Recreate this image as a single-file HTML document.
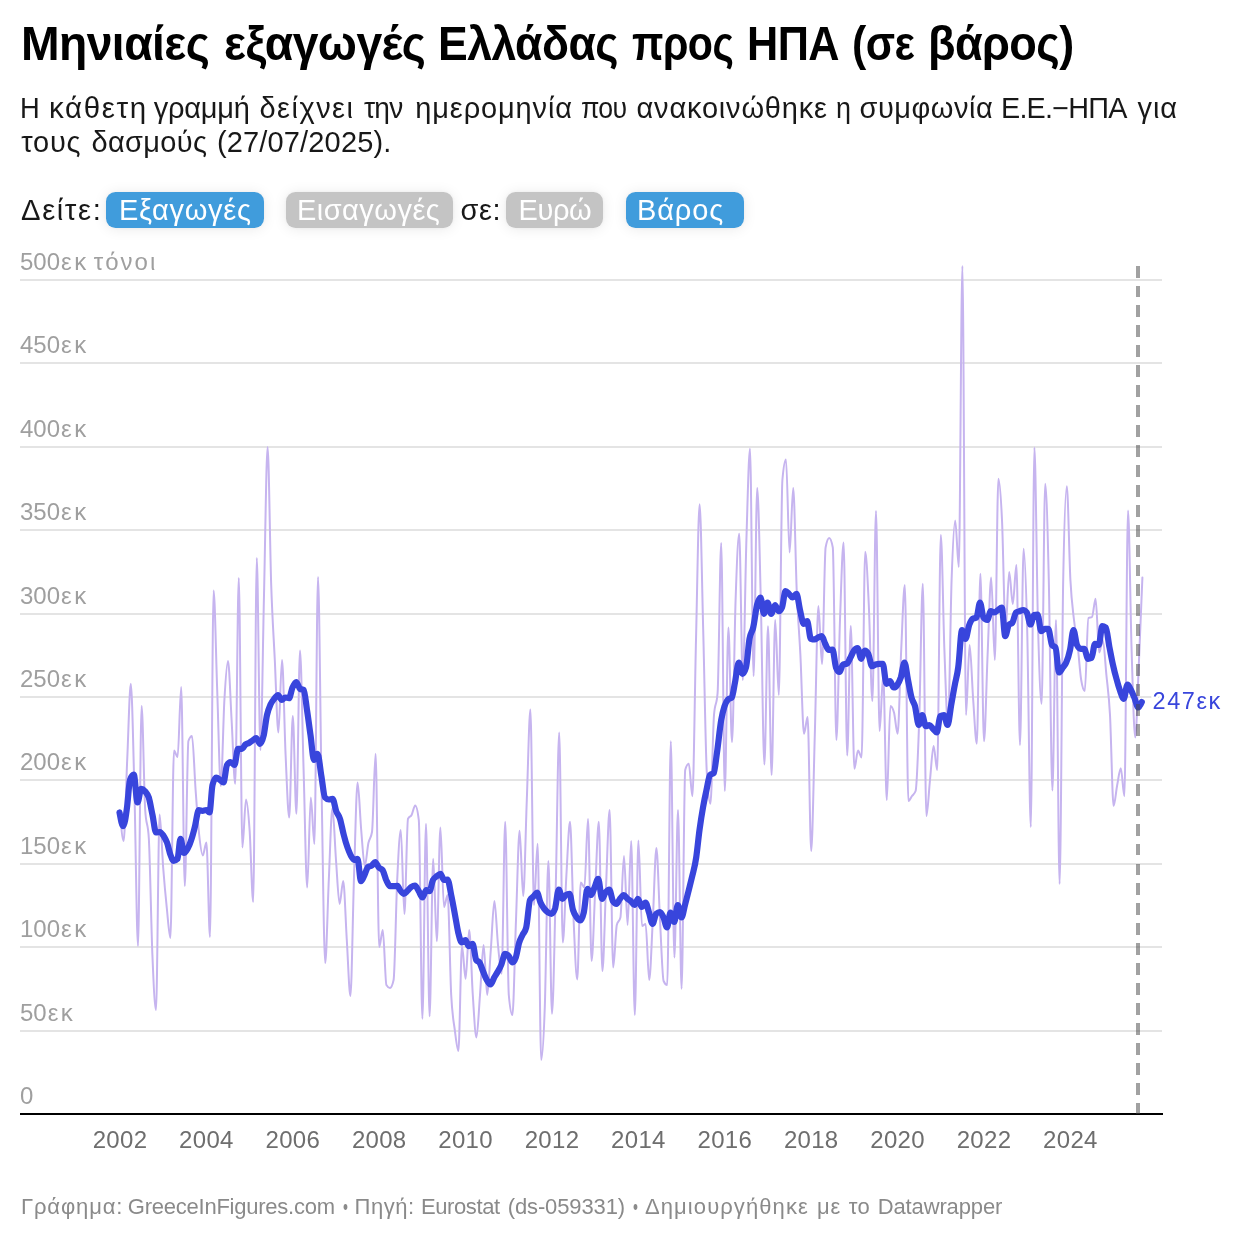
<!DOCTYPE html>
<html lang="el">
<head>
<meta charset="utf-8">
<title>Μηνιαίες εξαγωγές Ελλάδας προς ΗΠΑ (σε βάρος)</title>
<style>
html,body{margin:0;padding:0;background:#fff;}
body{width:1240px;height:1240px;position:relative;overflow:hidden;font-family:"Liberation Sans",sans-serif;color:#181818;}
.chart-wrap{position:absolute;left:0;top:0;width:1240px;height:1240px;will-change:transform;-webkit-font-smoothing:antialiased;}
.w{position:absolute;top:0;white-space:nowrap;display:inline-block;transform-origin:0 50%;}
h1.title{position:absolute;left:0;top:14px;width:1240px;height:60px;margin:0;font-size:48px;line-height:60px;font-weight:700;color:#000;white-space:nowrap;}
p.subtitle{position:absolute;left:0;margin:0;width:1240px;height:40px;font-size:29px;line-height:40px;color:#181818;white-space:nowrap;}
p.s1{top:88px;}
p.s2{top:122.25px;}
.controls{position:absolute;left:0;top:190px;width:1240px;height:40px;font-size:29px;line-height:40px;white-space:nowrap;color:#181818;}
.controls a.btn{position:absolute;top:1.9px;height:36.1px;border-radius:9.5px;color:#fff;text-decoration:none;box-shadow:0 1px 14px rgba(0,0,0,0.085),0 0 4px rgba(0,0,0,0.05);}
.controls a.btn .w{top:-1.9px;}
.controls a.on{background:#409cdc;}
.controls a.off{background:#c4c4c4;}
svg.chart{position:absolute;left:0;top:0;}
svg.chart text{font-family:"Liberation Sans",sans-serif;}
.grid rect{fill:#e4e4e4;shape-rendering:crispEdges;}
.ylabels text{fill:#9f9f9f;font-size:24px;}
.ylabels .sfx{letter-spacing:2.4px;}
.ylabels .sfx2{letter-spacing:2px;}
.xlabels text{fill:#6e6e6e;font-size:24px;text-anchor:middle;letter-spacing:0.3px;}
.footer{position:absolute;left:0;top:1193px;width:1240px;height:28px;font-size:22px;line-height:28px;color:#8a8a8a;white-space:nowrap;}
</style>
</head>
<body>
<div class="chart-wrap">
<h1 class="title"><span class="w" style="left:20.86px;letter-spacing:-0.6px;transform:scaleX(0.9647)">Μηνιαίες</span> <span class="w" style="left:223.54px;letter-spacing:-0.6px;transform:scaleX(0.964)">εξαγωγές</span> <span class="w" style="left:438.46px;letter-spacing:-0.6px;transform:scaleX(0.9286)">Ελλάδας</span> <span class="w" style="left:632px;letter-spacing:-0.6px;transform:scaleX(0.8562)">προς</span> <span class="w" style="left:746.8px;letter-spacing:-0.6px;transform:scaleX(0.9003)">ΗΠΑ</span> <span class="w" style="left:851.96px;letter-spacing:-0.6px;transform:scaleX(0.8926)">(σε</span> <span class="w" style="left:927.68px;letter-spacing:-0.6px;transform:scaleX(0.9384)">βάρος)</span></h1>
<p class="subtitle s1"><span class="w" style="left:20.12px;transform:scaleX(0.9412)">Η</span> <span class="w" style="left:48.98px;letter-spacing:1.6px;transform:scaleX(1.0169)">κάθετη</span> <span class="w" style="left:153.75px;letter-spacing:-0.236px">γραμμή</span> <span class="w" style="left:259.5px;letter-spacing:1.473px">δείχνει</span> <span class="w" style="left:363.75px;letter-spacing:-0.8px;transform:scaleX(0.9691)">την</span> <span class="w" style="left:415.25px;letter-spacing:0.87px">ημερομηνία</span> <span class="w" style="left:581.08px;letter-spacing:-0.8px;transform:scaleX(0.9195)">που</span> <span class="w" style="left:636.5px;letter-spacing:0.805px">ανακοινώθηκε</span> <span class="w" style="left:836.07px;transform:scaleX(0.9286)">η</span> <span class="w" style="left:859.5px;letter-spacing:0.521px">συμφωνία</span> <span class="w" style="left:1001.02px;letter-spacing:-0.8px;transform:scaleX(0.9919)">Ε.Ε.−ΗΠΑ</span> <span class="w" style="left:1137.5px;letter-spacing:0.904px">για</span></p>
<p class="subtitle s2"><span class="w" style="left:21.25px;letter-spacing:0.739px">τους</span> <span class="w" style="left:91.5px;letter-spacing:0.333px">δασμούς</span> <span class="w" style="left:217px;letter-spacing:0.149px">(27/07/2025).</span></p>
<div class="controls">
<span class="w lbl" style="left:20.8px;letter-spacing:1.6px;transform:scaleX(1.0074);">Δείτε:</span>
<a class="btn on" style="left:106px;width:158px"><span class="w" style="left:13px;letter-spacing:0.731px;">Εξαγωγές</span></a>
<a class="btn off" style="left:286.3px;width:167px"><span class="w" style="left:10.6px;letter-spacing:0.485px;">Εισαγωγές</span></a>
<span class="w lbl" style="left:460.4px;letter-spacing:0.587px;">σε:</span>
<a class="btn off" style="left:506.3px;width:97.2px"><span class="w" style="left:12.2px;letter-spacing:-0.366px;">Ευρώ</span></a>
<a class="btn on" style="left:626px;width:118px"><span class="w" style="left:11px;letter-spacing:0.867px;">Βάρος</span></a>
</div>
<svg class="chart" width="1240" height="1240" viewBox="0 0 1240 1240">
<defs><clipPath id="clip"><rect x="110" y="265" width="1045" height="860"/></clipPath></defs>
<g class="grid"><rect x="20" y="1030" width="1142" height="2"/><rect x="20" y="946" width="1142" height="2"/><rect x="20" y="863" width="1142" height="2"/><rect x="20" y="779" width="1142" height="2"/><rect x="20" y="696" width="1142" height="2"/><rect x="20" y="613" width="1142" height="2"/><rect x="20" y="529" width="1142" height="2"/><rect x="20" y="446" width="1142" height="2"/><rect x="20" y="362" width="1142" height="2"/><rect x="20" y="279" width="1142" height="2"/></g>
<g class="ylabels"><text x="20" y="1103.9">0</text><text x="20" y="1020.9">50<tspan class="sfx" dx="1">εκ</tspan></text><text x="20" y="936.9">100<tspan class="sfx" dx="1">εκ</tspan></text><text x="20" y="853.9">150<tspan class="sfx" dx="1">εκ</tspan></text><text x="20" y="769.9">200<tspan class="sfx" dx="1">εκ</tspan></text><text x="20" y="686.9">250<tspan class="sfx" dx="1">εκ</tspan></text><text x="20" y="603.9">300<tspan class="sfx" dx="1">εκ</tspan></text><text x="20" y="519.9">350<tspan class="sfx" dx="1">εκ</tspan></text><text x="20" y="436.9">400<tspan class="sfx" dx="1">εκ</tspan></text><text x="20" y="352.9">450<tspan class="sfx" dx="1">εκ</tspan></text><text x="20" y="269.9">500<tspan class="sfx" dx="1">εκ</tspan> <tspan class="sfx2" dx="-1.5">τόνοι</tspan></text></g>
<rect x="20" y="1113" width="1143" height="2" fill="#000" shape-rendering="crispEdges"/>
<g class="xlabels"><text x="120.0" y="1148.2">2002</text><text x="206.4" y="1148.2">2004</text><text x="292.8" y="1148.2">2006</text><text x="379.2" y="1148.2">2008</text><text x="465.6" y="1148.2">2010</text><text x="552.0" y="1148.2">2012</text><text x="638.4" y="1148.2">2014</text><text x="724.8" y="1148.2">2016</text><text x="811.2" y="1148.2">2018</text><text x="897.6" y="1148.2">2020</text><text x="984.0" y="1148.2">2022</text><text x="1070.4" y="1148.2">2024</text></g>
<g clip-path="url(#clip)" fill="none" stroke-linejoin="round" stroke-linecap="round">
<path d="M120.0,812.0C121.2,826.5,122.4,841.0,123.6,841.0C124.8,841.0,126.0,786.2,127.2,760.0C128.4,733.8,129.6,683.8,130.8,683.8C132.0,683.8,133.2,746.3,134.4,790.0C135.6,833.7,136.8,946.0,138.0,946.0C139.2,946.0,140.4,706.0,141.6,706.0C142.8,706.0,144.0,791.3,145.2,810.0C146.4,828.7,147.6,819.3,148.8,838.0C150.0,856.7,151.2,926.3,152.4,955.0C153.6,983.7,154.8,1010.0,156.0,1010.0C157.2,1010.0,158.4,814.5,159.6,814.5C160.8,814.5,162.0,852.4,163.2,868.0C164.4,883.6,165.6,896.3,166.8,908.0C168.0,919.7,169.2,938.0,170.4,938.0C171.6,938.0,172.8,750.5,174.0,750.5C175.2,750.5,176.4,757.0,177.6,757.0C178.8,757.0,180.0,687.0,181.2,687.0C182.4,687.0,183.6,886.0,184.8,886.0C186.0,886.0,187.2,744.3,188.4,741.0C189.6,737.7,190.8,736.0,192.0,736.0C193.2,736.0,194.4,773.5,195.6,790.0C196.8,806.5,198.0,824.1,199.2,835.0C200.4,845.9,201.6,855.5,202.8,855.5C204.0,855.5,205.2,842.5,206.4,842.5C207.6,842.5,208.8,937.0,210.0,937.0C211.2,937.0,212.4,590.5,213.6,590.5C214.8,590.5,216.0,657.4,217.2,690.0C218.4,722.6,219.6,786.0,220.8,786.0C222.0,786.0,223.2,720.8,224.4,700.0C225.6,679.2,226.8,661.0,228.0,661.0C229.2,661.0,230.4,699.5,231.6,720.0C232.8,740.5,234.0,783.8,235.2,783.8C236.4,783.8,237.6,578.0,238.8,578.0C240.0,578.0,241.2,847.5,242.4,847.5C243.6,847.5,244.8,799.5,246.0,799.5C247.2,799.5,248.4,812.9,249.6,830.0C250.8,847.1,252.0,902.0,253.2,902.0C254.4,902.0,255.6,558.0,256.8,558.0C258.0,558.0,259.2,750.0,260.4,750.0C261.6,750.0,262.8,645.5,264.0,595.0C265.2,544.5,266.4,447.0,267.6,447.0C268.8,447.0,270.0,549.5,271.2,585.0C272.4,620.5,273.6,635.4,274.8,660.0C276.0,684.6,277.2,732.5,278.4,732.5C279.6,732.5,280.8,660.0,282.0,660.0C283.2,660.0,284.4,728.8,285.6,755.0C286.8,781.2,288.0,817.5,289.2,817.5C290.4,817.5,291.6,716.0,292.8,716.0C294.0,716.0,295.2,813.8,296.4,813.8C297.6,813.8,298.8,650.5,300.0,650.5C301.2,650.5,302.4,730.5,303.6,770.0C304.8,809.5,306.0,887.5,307.2,887.5C308.4,887.5,309.6,797.5,310.8,797.5C312.0,797.5,313.2,844.0,314.4,844.0C315.6,844.0,316.8,577.0,318.0,577.0C319.2,577.0,320.4,725.7,321.6,790.0C322.8,854.3,324.0,963.0,325.2,963.0C326.4,963.0,327.6,905.8,328.8,880.0C330.0,854.2,331.2,808.0,332.4,808.0C333.6,808.0,334.8,844.0,336.0,860.0C337.2,876.0,338.4,904.0,339.6,904.0C340.8,904.0,342.0,881.0,343.2,881.0C344.4,881.0,345.6,920.8,346.8,940.0C348.0,959.2,349.2,996.0,350.4,996.0C351.6,996.0,352.8,912.6,354.0,877.0C355.2,841.4,356.4,782.5,357.6,782.5C358.8,782.5,360.0,816.1,361.2,830.0C362.4,843.9,363.6,866.0,364.8,866.0C366.0,866.0,367.2,848.7,368.4,843.0C369.6,837.3,370.8,839.3,372.0,832.0C373.2,824.7,374.4,753.8,375.6,753.8C376.8,753.8,378.0,947.0,379.2,947.0C380.4,947.0,381.6,930.0,382.8,930.0C384.0,930.0,385.2,983.0,386.4,985.0C387.6,987.0,388.8,988.0,390.0,988.0C391.2,988.0,392.4,985.3,393.6,980.0C394.8,974.7,396.0,905.0,397.2,880.0C398.4,855.0,399.6,830.0,400.8,830.0C402.0,830.0,403.2,914.0,404.4,914.0C405.6,914.0,406.8,821.2,408.0,818.8C409.2,816.2,410.4,817.2,411.6,815.0C412.8,812.8,414.0,805.5,415.2,805.5C416.4,805.5,417.6,810.3,418.8,820.0C420.0,829.7,421.2,1018.8,422.4,1018.8C423.6,1018.8,424.8,823.8,426.0,823.8C427.2,823.8,428.4,1016.2,429.6,1016.2C430.8,1016.2,432.0,858.8,433.2,858.8C434.4,858.8,435.6,941.2,436.8,941.2C438.0,941.2,439.2,827.5,440.4,827.5C441.6,827.5,442.8,907.0,444.0,907.0C445.2,907.0,446.4,895.0,447.6,895.0C448.8,895.0,450.0,972.5,451.2,995.0C452.4,1017.5,453.6,1020.7,454.8,1030.0C456.0,1039.3,457.2,1051.0,458.4,1051.0C459.6,1051.0,460.8,946.0,462.0,946.0C463.2,946.0,464.4,978.8,465.6,978.8C466.8,978.8,468.0,930.0,469.2,930.0C470.4,930.0,471.6,977.1,472.8,995.0C474.0,1012.9,475.2,1037.5,476.4,1037.5C477.6,1037.5,478.8,1010.4,480.0,995.0C481.2,979.6,482.4,945.0,483.6,945.0C484.8,945.0,486.0,995.0,487.2,995.0C488.4,995.0,489.6,965.7,490.8,950.0C492.0,934.3,493.2,901.0,494.4,901.0C495.6,901.0,496.8,932.9,498.0,945.0C499.2,957.1,500.4,973.8,501.6,973.8C502.8,973.8,504.0,821.8,505.2,821.8C506.4,821.8,507.6,981.7,508.8,995.0C510.0,1008.3,511.2,1015.0,512.4,1015.0C513.6,1015.0,514.8,950.7,516.0,920.0C517.2,889.3,518.4,830.8,519.6,830.8C520.8,830.8,522.0,896.0,523.2,896.0C524.4,896.0,525.6,831.1,526.8,800.0C528.0,768.9,529.2,709.5,530.4,709.5C531.6,709.5,532.8,905.0,534.0,905.0C535.2,905.0,536.4,843.8,537.6,843.8C538.8,843.8,540.0,1060.0,541.2,1060.0C542.4,1060.0,543.6,1040.2,544.8,1007.0C546.0,973.8,547.2,861.0,548.4,861.0C549.6,861.0,550.8,1013.8,552.0,1013.8C553.2,1013.8,554.4,941.9,555.6,895.0C556.8,848.1,558.0,732.5,559.2,732.5C560.4,732.5,561.6,942.5,562.8,942.5C564.0,942.5,565.2,895.1,566.4,875.0C567.6,854.9,568.8,821.8,570.0,821.8C571.2,821.8,572.4,893.7,573.6,920.0C574.8,946.3,576.0,979.5,577.2,979.5C578.4,979.5,579.6,882.5,580.8,882.5C582.0,882.5,583.2,887.5,584.4,887.5C585.6,887.5,586.8,819.0,588.0,819.0C589.2,819.0,590.4,961.0,591.6,961.0C592.8,961.0,594.0,913.2,595.2,890.0C596.4,866.8,597.6,821.8,598.8,821.8C600.0,821.8,601.2,971.0,602.4,971.0C603.6,971.0,604.8,914.3,606.0,887.5C607.2,860.7,608.4,810.0,609.6,810.0C610.8,810.0,612.0,967.5,613.2,967.5C614.4,967.5,615.6,930.0,616.8,925.0C618.0,920.0,619.2,922.5,620.4,917.5C621.6,912.5,622.8,856.0,624.0,856.0C625.2,856.0,626.4,925.0,627.6,925.0C628.8,925.0,630.0,841.0,631.2,841.0C632.4,841.0,633.6,1015.0,634.8,1015.0C636.0,1015.0,637.2,840.5,638.4,840.5C639.6,840.5,640.8,926.0,642.0,926.0C643.2,926.0,644.4,924.0,645.6,924.0C646.8,924.0,648.0,980.0,649.2,980.0C650.4,980.0,651.6,942.0,652.8,920.0C654.0,898.0,655.2,848.0,656.4,848.0C657.6,848.0,658.8,897.8,660.0,920.0C661.2,942.2,662.4,978.3,663.6,981.0C664.8,983.7,666.0,985.0,667.2,985.0C668.4,985.0,669.6,741.2,670.8,741.2C672.0,741.2,673.2,957.5,674.4,957.5C675.6,957.5,676.8,810.0,678.0,810.0C679.2,810.0,680.4,988.8,681.6,988.8C682.8,988.8,684.0,774.2,685.2,770.0C686.4,765.8,687.6,763.8,688.8,763.8C690.0,763.8,691.2,796.2,692.4,796.2C693.6,796.2,694.8,688.7,696.0,640.0C697.2,591.3,698.4,504.2,699.6,504.2C700.8,504.2,702.0,585.3,703.2,630.0C704.4,674.7,705.6,751.7,706.8,772.5C708.0,793.3,709.2,803.8,710.4,803.8C711.6,803.8,712.8,729.7,714.0,715.0C715.2,700.3,716.4,707.7,717.6,693.0C718.8,678.3,720.0,543.0,721.2,543.0C722.4,543.0,723.6,791.0,724.8,791.0C726.0,791.0,727.2,627.5,728.4,627.5C729.6,627.5,730.8,742.0,732.0,742.0C733.2,742.0,734.4,634.7,735.6,600.0C736.8,565.3,738.0,533.8,739.2,533.8C740.4,533.8,741.6,680.0,742.8,680.0C744.0,680.0,745.2,578.5,746.4,540.0C747.6,501.5,748.8,448.8,750.0,448.8C751.2,448.8,752.4,676.0,753.6,676.0C754.8,676.0,756.0,488.0,757.2,488.0C758.4,488.0,759.6,553.9,760.8,600.0C762.0,646.1,763.2,764.5,764.4,764.5C765.6,764.5,766.8,626.2,768.0,626.2C769.2,626.2,770.4,775.0,771.6,775.0C772.8,775.0,774.0,620.0,775.2,620.0C776.4,620.0,777.6,695.0,778.8,695.0C780.0,695.0,781.2,493.7,782.4,480.0C783.6,466.3,784.8,459.5,786.0,459.5C787.2,459.5,788.4,552.5,789.6,552.5C790.8,552.5,792.0,488.0,793.2,488.0C794.4,488.0,795.6,564.7,796.8,592.5C798.0,620.3,799.2,631.5,800.4,655.0C801.6,678.5,802.8,733.8,804.0,733.8C805.2,733.8,806.4,717.0,807.6,717.0C808.8,717.0,810.0,851.0,811.2,851.0C812.4,851.0,813.6,775.8,814.8,735.0C816.0,694.2,817.2,606.0,818.4,606.0C819.6,606.0,820.8,664.0,822.0,664.0C823.2,664.0,824.4,553.8,825.6,547.5C826.8,541.2,828.0,538.0,829.2,538.0C830.4,538.0,831.6,541.2,832.8,547.5C834.0,553.8,835.2,740.0,836.4,740.0C837.6,740.0,838.8,652.9,840.0,620.0C841.2,587.1,842.4,542.5,843.6,542.5C844.8,542.5,846.0,755.5,847.2,755.5C848.4,755.5,849.6,626.0,850.8,626.0C852.0,626.0,853.2,768.8,854.4,768.8C855.6,768.8,856.8,750.5,858.0,750.5C859.2,750.5,860.4,757.5,861.6,757.5C862.8,757.5,864.0,551.8,865.2,551.8C866.4,551.8,867.6,580.1,868.8,605.0C870.0,629.9,871.2,701.0,872.4,701.0C873.6,701.0,874.8,511.0,876.0,511.0C877.2,511.0,878.4,731.0,879.6,731.0C880.8,731.0,882.0,675.0,883.2,675.0C884.4,675.0,885.6,800.0,886.8,800.0C888.0,800.0,889.2,706.0,890.4,706.0C891.6,706.0,892.8,708.2,894.0,712.5C895.2,716.8,896.4,733.8,897.6,733.8C898.8,733.8,900.0,674.8,901.2,650.0C902.4,625.2,903.6,585.0,904.8,585.0C906.0,585.0,907.2,801.0,908.4,801.0C909.6,801.0,910.8,797.7,912.0,796.0C913.2,794.3,914.4,794.3,915.6,791.0C916.8,787.7,918.0,754.5,919.2,720.0C920.4,685.5,921.6,583.8,922.8,583.8C924.0,583.8,925.2,816.0,926.4,816.0C927.6,816.0,928.8,791.7,930.0,780.0C931.2,768.3,932.4,746.0,933.6,746.0C934.8,746.0,936.0,770.0,937.2,770.0C938.4,770.0,939.6,535.0,940.8,535.0C942.0,535.0,943.2,618.3,944.4,650.0C945.6,681.7,946.8,725.0,948.0,725.0C949.2,725.0,950.4,614.1,951.6,580.0C952.8,545.9,954.0,520.5,955.2,520.5C956.4,520.5,957.6,567.0,958.8,567.0C960.0,567.0,961.2,266.0,962.4,266.0C963.6,266.0,964.8,715.0,966.0,715.0C967.2,715.0,968.4,645.0,969.6,645.0C970.8,645.0,972.0,683.5,973.2,700.0C974.4,716.5,975.6,743.8,976.8,743.8C978.0,743.8,979.2,573.8,980.4,573.8C981.6,573.8,982.8,741.2,984.0,741.2C985.2,741.2,986.4,682.3,987.6,655.0C988.8,627.7,990.0,577.5,991.2,577.5C992.4,577.5,993.6,660.0,994.8,660.0C996.0,660.0,997.2,478.8,998.4,478.8C999.6,478.8,1000.8,494.8,1002.0,520.0C1003.2,545.2,1004.4,630.0,1005.6,630.0C1006.8,630.0,1008.0,572.0,1009.2,572.0C1010.4,572.0,1011.6,604.0,1012.8,604.0C1014.0,604.0,1015.2,565.0,1016.4,565.0C1017.6,565.0,1018.8,745.0,1020.0,745.0C1021.2,745.0,1022.4,548.8,1023.6,548.8C1024.8,548.8,1026.0,583.6,1027.2,630.0C1028.4,676.4,1029.6,827.0,1030.8,827.0C1032.0,827.0,1033.2,447.5,1034.4,447.5C1035.6,447.5,1036.8,582.3,1038.0,625.0C1039.2,667.7,1040.4,703.8,1041.6,703.8C1042.8,703.8,1044.0,483.8,1045.2,483.8C1046.4,483.8,1047.6,528.9,1048.8,580.0C1050.0,631.1,1051.2,790.5,1052.4,790.5C1053.6,790.5,1054.8,620.0,1056.0,620.0C1057.2,620.0,1058.4,884.0,1059.6,884.0C1060.8,884.0,1062.0,642.5,1063.2,580.0C1064.4,517.5,1065.6,486.2,1066.8,486.2C1068.0,486.2,1069.2,557.7,1070.4,580.0C1071.6,602.3,1072.8,609.2,1074.0,620.0C1075.2,630.8,1076.4,635.0,1077.6,645.0C1078.8,655.0,1080.0,672.7,1081.2,680.0C1082.4,687.3,1083.6,691.0,1084.8,691.0C1086.0,691.0,1087.2,618.7,1088.4,618.0C1089.6,617.3,1090.8,617.7,1092.0,617.0C1093.2,616.3,1094.4,598.8,1095.6,598.8C1096.8,598.8,1098.0,652.5,1099.2,652.5C1100.4,652.5,1101.6,640.0,1102.8,640.0C1104.0,640.0,1105.2,662.5,1106.4,675.0C1107.6,687.5,1108.8,693.2,1110.0,715.0C1111.2,736.8,1112.4,805.8,1113.6,805.8C1114.8,805.8,1116.0,791.2,1117.2,785.0C1118.4,778.8,1119.6,768.2,1120.8,768.2C1122.0,768.2,1123.2,796.2,1124.4,796.2C1125.6,796.2,1126.8,510.5,1128.0,510.5C1129.2,510.5,1130.4,612.2,1131.6,650.0C1132.8,687.8,1134.0,737.5,1135.2,737.5C1136.4,737.5,1137.6,691.7,1138.8,665.0C1140.0,638.3,1141.2,607.9,1142.4,577.5" stroke="#c6b4ef" stroke-width="2"/>
<path d="M119.5,812.5C120.8,819.4,122.0,826.2,123.2,826.2C124.5,826.2,125.8,816.6,127.0,807.5C128.0,800.2,129.0,782.9,130.0,780.0C131.2,776.3,132.5,774.5,133.8,774.5C135.0,774.5,136.2,802.5,137.5,802.5C138.8,802.5,140.0,788.8,141.2,788.8C142.5,788.8,143.8,789.8,145.0,791.2C146.2,792.7,147.5,793.5,148.8,797.5C150.0,801.5,151.2,809.0,152.5,815.0C153.7,820.6,154.8,832.5,156.0,832.5C157.3,832.5,158.7,832.0,160.0,832.0C161.2,832.0,162.5,834.3,163.8,836.2C164.8,837.9,165.9,839.6,167.0,842.5C168.2,845.7,169.3,851.9,170.5,855.0C171.6,857.9,172.7,860.8,173.8,860.8C175.0,860.8,176.2,860.1,177.5,858.8C178.5,857.7,179.5,838.8,180.5,838.8C181.7,838.8,182.8,853.0,184.0,853.0C185.2,853.0,186.3,850.8,187.5,848.8C188.8,846.6,190.0,843.8,191.2,840.0C192.5,836.2,193.8,831.2,195.0,826.2C196.2,821.2,197.5,810.0,198.8,810.0C200.0,810.0,201.2,810.8,202.5,810.8C203.8,810.8,205.0,810.0,206.2,810.0C207.3,810.0,208.4,812.5,209.5,812.5C210.5,812.5,211.5,789.0,212.5,785.0C213.8,780.0,215.0,777.5,216.2,777.5C217.5,777.5,218.8,779.1,220.0,780.0C221.2,780.8,222.3,782.5,223.5,782.5C224.7,782.5,225.8,767.0,227.0,765.0C228.2,763.0,229.3,762.0,230.5,762.0C231.8,762.0,233.2,765.0,234.5,765.0C235.7,765.0,236.8,748.8,238.0,748.8C239.3,748.8,240.7,748.8,242.0,748.8C243.2,748.8,244.3,745.5,245.5,744.5C246.7,743.5,247.8,743.7,249.0,743.0C250.2,742.3,251.3,741.3,252.5,740.5C253.8,739.6,255.0,738.0,256.2,738.0C257.5,738.0,258.8,743.8,260.0,743.8C261.2,743.8,262.5,740.5,263.8,735.0C264.8,730.3,265.9,720.0,267.0,715.0C268.2,709.6,269.3,707.2,270.5,704.5C271.8,701.6,273.0,700.3,274.2,698.8C275.5,697.2,276.8,695.0,278.0,695.0C279.2,695.0,280.5,700.0,281.8,700.0C282.9,700.0,284.1,697.5,285.2,697.5C286.5,697.5,287.8,698.2,289.0,698.2C290.2,698.2,291.3,690.2,292.5,687.5C293.8,684.6,295.0,682.0,296.2,682.0C297.5,682.0,298.8,687.9,300.0,688.8C301.2,689.6,302.5,689.2,303.8,690.0C304.8,690.7,305.9,702.8,307.0,710.0C308.2,717.7,309.3,726.7,310.5,735.0C311.7,743.3,312.8,760.0,314.0,760.0C315.2,760.0,316.3,753.8,317.5,753.8C318.8,753.8,320.0,767.7,321.2,775.0C322.5,782.3,323.8,796.2,325.0,797.5C326.2,798.8,327.5,799.5,328.8,799.5C330.0,799.5,331.2,798.8,332.5,798.8C333.8,798.8,335.0,807.9,336.2,811.2C337.5,814.6,338.8,814.8,340.0,818.8C341.2,822.7,342.5,830.2,343.8,835.0C345.0,839.8,346.2,844.0,347.5,847.5C348.8,851.0,350.0,854.1,351.2,856.2C352.3,858.1,353.4,860.0,354.5,860.0C355.5,860.0,356.5,858.8,357.5,858.8C358.7,858.8,359.8,881.2,361.0,881.2C362.2,881.2,363.3,877.4,364.5,875.0C365.7,872.6,366.8,867.9,368.0,867.0C369.2,866.0,370.5,866.4,371.8,865.5C372.9,864.7,374.1,862.0,375.2,862.0C376.4,862.0,377.6,866.2,378.8,867.5C380.0,868.9,381.2,868.3,382.5,870.0C383.8,871.7,385.0,877.3,386.2,880.0C387.5,882.7,388.8,886.2,390.0,886.2C391.2,886.2,392.5,886.2,393.8,886.2C395.0,886.2,396.2,885.8,397.5,885.8C398.3,885.8,399.2,888.8,400.0,890.0C401.2,891.8,402.5,893.8,403.8,893.8C405.0,893.8,406.2,891.9,407.5,890.8C408.8,889.6,410.0,887.9,411.2,887.0C412.5,886.1,413.8,885.5,415.0,885.5C416.2,885.5,417.5,889.2,418.8,891.2C420.0,893.2,421.2,897.5,422.5,897.5C423.8,897.5,425.0,890.0,426.2,890.0C427.3,890.0,428.4,891.2,429.5,891.2C430.7,891.2,431.8,882.3,433.0,880.0C434.2,877.5,435.5,877.3,436.8,876.2C438.0,875.2,439.2,873.8,440.5,873.8C441.7,873.8,442.8,880.0,444.0,880.0C445.2,880.0,446.3,879.5,447.5,879.5C448.8,879.5,450.0,889.1,451.2,895.0C452.5,900.9,453.8,908.3,455.0,915.0C456.1,920.8,457.2,928.0,458.2,932.5C459.4,937.4,460.6,942.5,461.8,942.5C463.0,942.5,464.2,940.0,465.5,940.0C466.6,940.0,467.7,946.2,468.8,946.2C470.0,946.2,471.2,943.8,472.5,943.8C473.8,943.8,475.0,958.1,476.2,960.0C477.3,961.7,478.4,960.8,479.5,962.5C480.7,964.3,481.8,968.4,483.0,971.2C484.2,974.3,485.5,977.8,486.8,980.0C488.0,982.2,489.2,984.5,490.5,984.5C491.8,984.5,493.0,979.7,494.2,977.5C495.5,975.3,496.8,973.5,498.0,971.2C499.1,969.3,500.2,967.6,501.2,965.0C502.5,962.0,503.8,953.8,505.0,953.8C506.2,953.8,507.5,954.8,508.8,956.2C510.0,957.7,511.2,962.5,512.5,962.5C513.6,962.5,514.7,960.6,515.8,957.5C516.9,954.2,518.1,946.3,519.2,942.5C520.3,939.0,521.4,937.3,522.5,935.0C523.8,932.3,525.0,932.5,526.2,927.5C527.5,922.5,528.8,902.5,530.0,900.0C531.2,897.5,532.5,897.6,533.8,896.2C534.8,895.1,535.9,892.5,537.0,892.5C538.2,892.5,539.3,899.8,540.5,902.5C541.8,905.4,543.0,907.1,544.2,908.8C545.5,910.4,546.8,911.7,548.0,912.5C549.2,913.3,550.3,913.8,551.5,913.8C552.7,913.8,553.8,912.1,555.0,908.8C556.2,905.2,557.5,889.5,558.8,889.5C560.0,889.5,561.2,898.8,562.5,898.8C563.6,898.8,564.7,895.7,565.8,895.0C567.0,894.2,568.2,893.8,569.5,893.8C570.7,893.8,571.8,906.1,573.0,910.0C574.2,914.2,575.5,915.8,576.8,917.5C578.0,919.2,579.2,920.5,580.5,920.5C581.6,920.5,582.7,917.1,583.8,912.5C585.0,907.2,586.2,888.8,587.5,888.8C588.8,888.8,590.0,895.0,591.2,895.0C592.3,895.0,593.4,890.0,594.5,887.5C595.8,884.6,597.0,878.8,598.2,878.8C599.5,878.8,600.8,898.8,602.0,898.8C603.2,898.8,604.3,894.0,605.5,892.5C606.8,890.9,608.0,889.5,609.2,889.5C610.5,889.5,611.8,899.5,613.0,901.2C614.2,902.9,615.3,903.8,616.5,903.8C617.7,903.8,618.8,900.2,620.0,898.8C621.2,897.2,622.5,895.0,623.8,895.0C625.0,895.0,626.2,897.7,627.5,898.8C628.7,899.7,629.8,900.2,631.0,901.2C632.2,902.3,633.3,905.0,634.5,905.0C635.7,905.0,636.8,898.8,638.0,898.8C639.2,898.8,640.5,907.0,641.8,907.0C643.0,907.0,644.2,902.5,645.5,902.5C646.7,902.5,647.8,909.0,649.0,912.5C650.2,916.0,651.3,923.8,652.5,923.8C653.8,923.8,655.0,914.9,656.2,913.8C657.5,912.6,658.8,912.0,660.0,912.0C661.2,912.0,662.3,914.9,663.5,917.5C664.7,920.1,665.8,927.5,667.0,927.5C668.2,927.5,669.3,912.5,670.5,912.5C671.8,912.5,673.0,922.0,674.2,922.0C675.4,922.0,676.6,905.0,677.8,905.0C679.0,905.0,680.2,917.5,681.5,917.5C682.7,917.5,683.8,909.4,685.0,905.0C686.2,900.3,687.5,895.0,688.8,890.0C690.0,885.0,691.2,880.4,692.5,875.0C693.8,869.6,695.0,865.9,696.2,857.5C697.3,850.2,698.4,838.1,699.5,830.0C700.7,821.3,701.8,814.2,703.0,807.5C704.2,800.8,705.3,795.4,706.5,790.0C707.7,784.6,708.8,776.2,710.0,775.0C711.2,773.7,712.5,774.3,713.8,773.0C714.8,771.8,715.9,760.0,717.0,752.5C718.4,742.7,719.8,728.1,721.2,720.0C722.3,713.8,723.4,709.6,724.5,706.2C725.7,702.6,726.8,700.7,728.0,699.5C729.2,698.2,730.5,698.8,731.8,697.5C732.8,696.3,733.9,687.9,735.0,682.5C736.2,676.3,737.5,662.5,738.8,662.5C740.0,662.5,741.2,673.8,742.5,673.8C743.7,673.8,744.8,671.7,746.0,667.5C747.2,663.3,748.3,645.4,749.5,638.8C750.8,631.6,752.0,633.1,753.2,627.5C754.5,621.9,755.8,610.0,757.0,605.0C758.2,600.3,759.3,597.5,760.5,597.5C761.7,597.5,762.8,613.8,764.0,613.8C765.2,613.8,766.3,602.5,767.5,602.5C768.8,602.5,770.0,613.8,771.2,613.8C772.5,613.8,773.8,605.0,775.0,605.0C776.2,605.0,777.5,611.2,778.8,611.2C779.8,611.2,780.9,610.0,782.0,607.5C783.2,604.8,784.3,591.2,785.5,591.2C786.7,591.2,787.8,592.7,789.0,593.8C790.2,594.8,791.3,597.5,792.5,597.5C793.8,597.5,795.2,593.8,796.5,593.8C797.7,593.8,798.8,605.1,800.0,610.0C801.2,615.2,802.5,623.8,803.8,623.8C804.9,623.8,806.1,621.2,807.2,621.2C808.4,621.2,809.6,638.3,810.8,638.8C812.0,639.2,813.2,639.5,814.5,639.5C815.7,639.5,816.8,638.0,818.0,637.5C819.2,636.9,820.5,636.2,821.8,636.2C822.9,636.2,824.1,641.5,825.2,643.8C826.4,646.0,827.6,650.0,828.8,650.0C830.0,650.0,831.2,649.5,832.5,649.5C833.7,649.5,834.8,664.5,836.0,667.5C837.2,670.5,838.3,672.0,839.5,672.0C840.7,672.0,841.8,665.0,843.0,664.5C844.2,664.0,845.5,664.2,846.8,663.8C847.9,663.3,849.1,660.1,850.2,658.0C851.5,655.7,852.8,652.2,854.0,650.5C855.2,648.9,856.3,648.0,857.5,648.0C858.8,648.0,860.0,658.8,861.2,658.8C862.4,658.8,863.6,650.5,864.8,650.5C865.9,650.5,867.1,651.6,868.2,653.8C869.5,656.1,870.8,666.2,872.0,666.2C873.2,666.2,874.3,664.9,875.5,664.5C876.8,664.1,878.0,663.8,879.2,663.8C880.4,663.8,881.6,663.8,882.8,663.8C884.0,663.8,885.2,683.8,886.5,683.8C887.7,683.8,888.8,681.2,890.0,681.2C891.2,681.2,892.5,687.5,893.8,687.5C894.9,687.5,896.1,686.7,897.2,685.0C898.4,683.3,899.6,681.0,900.8,677.5C902.0,673.7,903.2,662.5,904.5,662.5C905.7,662.5,906.8,674.2,908.0,680.0C909.2,685.8,910.3,693.1,911.5,697.5C912.7,701.9,913.8,701.9,915.0,706.2C916.2,710.9,917.5,725.0,918.8,725.0C919.9,725.0,921.1,715.0,922.2,715.0C923.4,715.0,924.6,726.2,925.8,726.2C927.0,726.2,928.2,725.0,929.5,725.0C930.7,725.0,931.8,727.5,933.0,728.8C934.2,730.0,935.5,732.5,936.8,732.5C937.9,732.5,939.1,717.0,940.2,716.2C941.5,715.4,942.8,715.0,944.0,715.0C945.2,715.0,946.3,725.0,947.5,725.0C948.8,725.0,950.0,711.9,951.2,705.0C952.4,698.5,953.6,691.2,954.8,685.0C955.9,678.8,957.1,676.1,958.2,667.5C959.5,658.2,960.8,630.0,962.0,630.0C963.2,630.0,964.3,638.8,965.5,638.8C966.8,638.8,968.0,628.4,969.2,625.0C970.4,621.9,971.6,619.5,972.8,618.8C974.0,617.9,975.2,618.3,976.5,617.5C977.7,616.7,978.8,602.5,980.0,602.5C981.2,602.5,982.3,615.9,983.5,617.5C984.8,619.2,986.0,620.0,987.2,620.0C988.4,620.0,989.6,611.2,990.8,611.2C991.9,611.2,993.1,612.5,994.2,612.5C995.5,612.5,996.8,610.8,998.0,610.0C999.2,609.2,1000.5,607.5,1001.8,607.5C1002.9,607.5,1004.1,636.2,1005.2,636.2C1006.4,636.2,1007.6,626.6,1008.8,625.0C1010.0,623.3,1011.2,624.2,1012.5,622.5C1013.7,620.9,1014.8,613.3,1016.0,612.5C1017.2,611.7,1018.3,611.7,1019.5,611.2C1020.8,610.8,1022.0,610.0,1023.2,610.0C1024.4,610.0,1025.6,610.8,1026.8,612.5C1028.0,614.3,1029.2,624.5,1030.5,624.5C1031.7,624.5,1032.8,615.3,1034.0,615.0C1035.2,614.7,1036.3,614.5,1037.5,614.5C1038.8,614.5,1040.0,631.2,1041.2,631.2C1042.4,631.2,1043.6,628.8,1044.8,628.8C1045.9,628.8,1047.1,628.8,1048.2,628.8C1049.5,628.8,1050.8,643.2,1052.0,645.0C1053.2,646.7,1054.3,645.8,1055.5,647.5C1056.7,649.2,1057.8,672.5,1059.0,672.5C1060.2,672.5,1061.5,669.2,1062.8,667.5C1063.9,665.9,1065.1,665.2,1066.2,662.5C1067.5,659.6,1068.8,655.7,1070.0,650.0C1071.2,644.7,1072.3,630.0,1073.5,630.0C1074.7,630.0,1075.8,642.7,1077.0,645.0C1078.2,647.5,1079.5,648.8,1080.8,648.8C1081.9,648.8,1083.1,648.8,1084.2,648.8C1085.5,648.8,1086.8,658.8,1088.0,658.8C1089.2,658.8,1090.3,658.5,1091.5,658.0C1092.7,657.5,1093.8,643.8,1095.0,643.8C1096.2,643.8,1097.5,645.0,1098.8,645.0C1099.9,645.0,1101.1,626.2,1102.2,626.2C1103.4,626.2,1104.6,626.7,1105.8,627.5C1107.0,628.4,1108.2,641.0,1109.5,647.5C1110.7,653.5,1111.8,659.7,1113.0,665.0C1114.2,670.6,1115.5,675.5,1116.8,680.0C1117.9,684.2,1119.1,688.1,1120.2,691.2C1121.4,694.4,1122.6,698.8,1123.8,698.8C1125.0,698.8,1126.2,684.5,1127.5,684.5C1128.7,684.5,1129.8,687.7,1131.0,690.0C1132.2,692.4,1133.5,695.7,1134.8,698.8C1135.9,701.6,1137.1,707.5,1138.2,707.5C1139.4,707.5,1140.6,704.8,1141.8,702.0" stroke="#3845dc" stroke-width="6.2"/>
</g>
<line x1="1138" x2="1138" y1="265.6" y2="1113.6" stroke="rgb(70,70,70)" stroke-opacity="0.51" stroke-width="4" stroke-dasharray="11.9 8.03" shape-rendering="crispEdges"/>
<text x="1152.5" y="708.5" fill="#3845dc" font-size="23.5" letter-spacing="1.6" stroke="#fff" stroke-width="5" stroke-linejoin="round" paint-order="stroke">247εκ</text>
</svg>
<div class="footer"><span class="w" style="left:21px;letter-spacing:0.858px">Γράφημα:</span> <span class="w" style="left:127.75px;letter-spacing:-0.233px">GreeceInFigures.com</span> <span class="w" style="left:342.5px;transform:scaleX(0.6429)">•</span> <span class="w" style="left:354.5px;letter-spacing:0.535px">Πηγή:</span> <span class="w" style="left:421px;letter-spacing:-0.403px">Eurostat</span> <span class="w" style="left:507.75px;letter-spacing:-0.13px">(ds-059331)</span> <span class="w" style="left:633px;transform:scaleX(0.6429)">•</span> <span class="w" style="left:645px;letter-spacing:1.085px">Δημιουργήθηκε</span> <span class="w" style="left:817px;letter-spacing:0.824px">με</span> <span class="w" style="left:848.75px;letter-spacing:0.371px">το</span> <span class="w" style="left:877.75px;letter-spacing:-0.138px">Datawrapper</span></div>
</div>
</body>
</html>
